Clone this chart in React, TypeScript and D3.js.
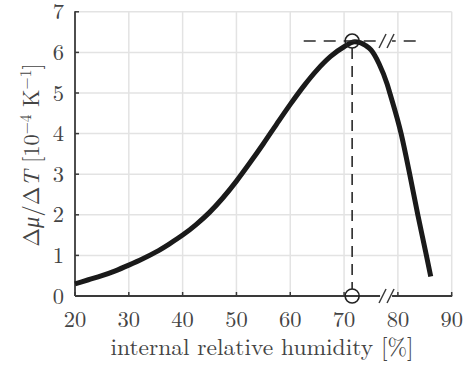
import React from "react";
import * as d3 from "d3";

const humidity = [20, 22.5, 25, 27.5, 30, 32.5, 35, 37.5, 40, 42.5, 45, 47.5, 50, 52.5, 55, 57.5, 60, 62.5, 65, 67.5, 70, 72, 74, 75, 76.5, 78, 78.5, 80.6, 82.2, 83.7, 85.3, 86.1];
const dmu = [0.30, 0.40, 0.50, 0.62, 0.76, 0.91, 1.08, 1.28, 1.50, 1.76, 2.06, 2.42, 2.83, 3.28, 3.75, 4.24, 4.72, 5.17, 5.57, 5.90, 6.14, 6.26, 6.17, 6.06, 5.72, 5.22, 5.0, 4.0, 3.0, 2.0, 1.0, 0.48];
const xTicks = [20, 30, 40, 50, 60, 70, 80, 90];
const yTicks = [0, 1, 2, 3, 4, 5, 6, 7];
const peakX = 71.5;
const peakY = 6.28;
const hLineFrom = 62.5;
const hLineTo = 83.8;
const breakX = 77.8;

export default function App() {
  const W = 470, H = 367;
  const x = d3.scaleLinear().domain([20, 90]).range([75, 451.7]);
  const y = d3.scaleLinear().domain([0, 7]).range([296, 11.8]);
  const pts: [number, number][] = humidity.map((h, i) => [h, dmu[i]]);
  const line = d3.line<[number, number]>().x(d => x(d[0])).y(d => y(d[1])).curve(d3.curveMonotoneX);
  const axisColor = "#3a3a3a";
  const textColor = "#444";
  const tStyle = { fontFamily: '"Latin Modern Roman", "Liberation Serif", serif' };
  const slash = (cx: number, cy: number) => (
    <g>
      <line x1={cx - 7} y1={cy + 7} x2={cx} y2={cy - 7} stroke={axisColor} strokeWidth={1.5} />
      <line x1={cx + 1} y1={cy + 7} x2={cx + 8} y2={cy - 7} stroke={axisColor} strokeWidth={1.5} />
    </g>
  );
  return (
    <svg width={W} height={H} style={{ position: "absolute", left: 0, top: 0, background: "#fff" }}>
      <rect width={W} height={H} fill="#fff" />
      {xTicks.slice(1).map(t => (
        <line key={"gx" + t} x1={x(t)} x2={x(t)} y1={y(0)} y2={y(7)} stroke="#e3e3e3" strokeWidth={1.5} />
      ))}
      {yTicks.slice(1).map(t => (
        <line key={"gy" + t} x1={x(20)} x2={x(90)} y1={y(t)} y2={y(t)} stroke="#e3e3e3" strokeWidth={1.5} />
      ))}
      <line x1={x(20)} x2={x(20)} y1={y(0)} y2={y(7) - 0.5} stroke={axisColor} strokeWidth={1.8} />
      <line x1={x(20)} x2={x(90) + 0.5} y1={y(0)} y2={y(0)} stroke={axisColor} strokeWidth={1.8} />
      {xTicks.map(t => (
        <g key={"xt" + t}>
          <line x1={x(t)} x2={x(t)} y1={y(0)} y2={y(0) - 4} stroke={axisColor} strokeWidth={1.5} />
          <text x={x(t)} y={327} textAnchor="middle" fontSize={22.5} fill={textColor} style={tStyle}>{t}</text>
        </g>
      ))}
      {yTicks.map(t => (
        <g key={"yt" + t}>
          <line x1={x(20)} x2={x(20) + 4} y1={y(t)} y2={y(t)} stroke={axisColor} strokeWidth={1.5} />
          <text x={64} y={y(t) + 7.5} textAnchor="end" fontSize={22.5} fill={textColor} style={tStyle}>{t}</text>
        </g>
      ))}
      <path d={line(pts) || ""} fill="none" stroke="#1a1a1a" strokeWidth={5} strokeLinecap="butt" />
      <line x1={x(peakX)} x2={x(peakX)} y1={y(peakY) + 7} y2={y(0) - 7} stroke="#2a2a2a" strokeWidth={1.6} strokeDasharray="11,7" />
      <line x1={x(hLineFrom)} x2={x(hLineTo)} y1={y(peakY)} y2={y(peakY)} stroke="#2a2a2a" strokeWidth={1.6} strokeDasharray="12,8" />
      <rect x={x(breakX) - 6} y={y(peakY) - 3} width={12} height={6} fill="#fff" />
      {slash(x(breakX), y(peakY))}
      <rect x={x(breakX) - 6} y={y(0) - 2} width={12} height={4} fill="#fff" />
      {slash(x(breakX), y(0))}
      <circle cx={x(peakX)} cy={y(peakY)} r={7} fill="none" stroke="#222" strokeWidth={1.6} />
      <circle cx={x(peakX)} cy={y(0)} r={7} fill="none" stroke="#222" strokeWidth={1.6} />
      <text x={262} y={355} textAnchor="middle" fontSize={23.5} fill={textColor} style={tStyle}>internal relative humidity [%]</text>
      <text transform="translate(39,155) rotate(-90)" textAnchor="middle" fontSize={22.5} fill={textColor} style={tStyle}>
        <tspan>Δ</tspan><tspan fontStyle="italic">μ</tspan><tspan>/Δ</tspan><tspan fontStyle="italic">T</tspan>
        <tspan> [10</tspan><tspan fontSize={15.5} dy={-8.5}>−4</tspan><tspan dy={8.5}> K</tspan>
        <tspan fontSize={15.5} dy={-8.5}>−1</tspan><tspan dy={8.5}>]</tspan>
      </text>
    </svg>
  );
}
